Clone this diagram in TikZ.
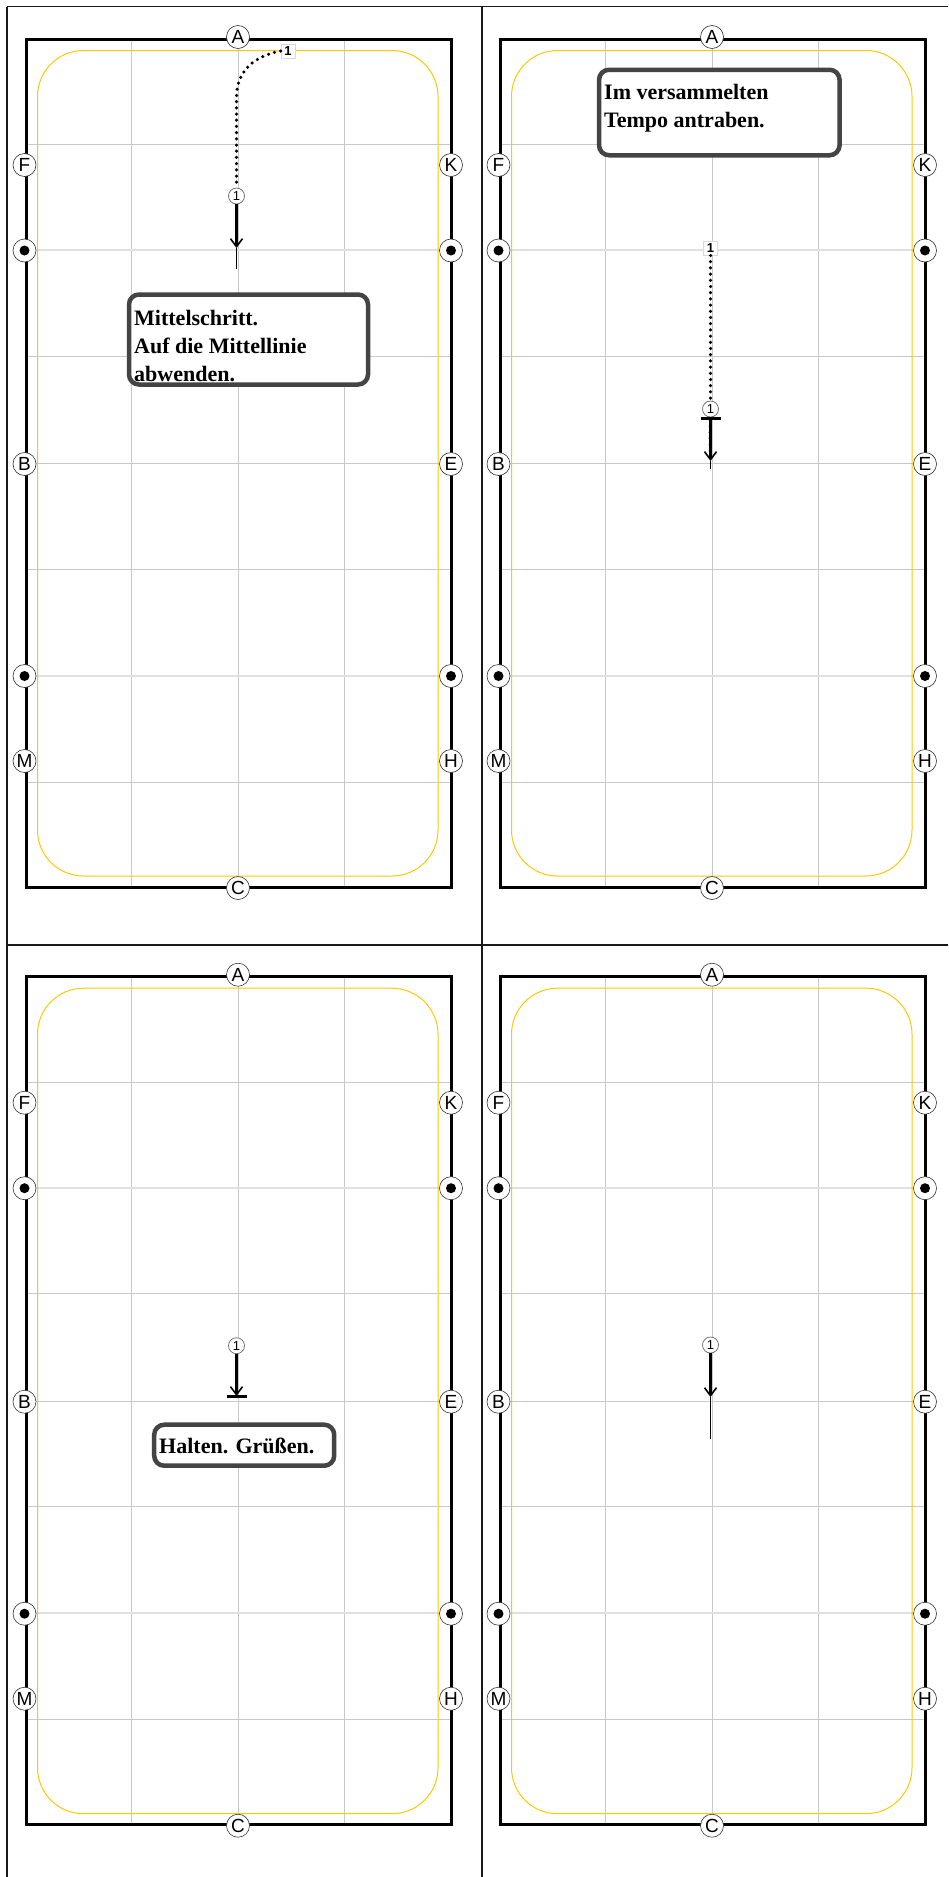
\documentclass[tikz,border=0pt]{standalone}
\usepackage{fontspec}
\setmainfont{Liberation Serif}
\newfontfamily\markfont{Liberation Sans}
\usetikzlibrary{arrows.meta}
\definecolor{gridc}{HTML}{C8C8C8}
\definecolor{gridl}{HTML}{E0E0E0}
\definecolor{yel}{HTML}{FFC800}
\definecolor{boxc}{HTML}{444444}
\tikzset{
  x=1pt,y=-1pt,
  framel/.style={line width=1.6pt,draw=black!90},
  arena/.style={line width=3pt,draw=black},
  gridline/.style={line width=1pt,draw=gridc},
  gridlight/.style={line width=2pt,draw=gridl},
  track/.style={line width=1pt,draw=yel,rounded corners=46pt},
  letterm/.style={circle,draw=black!80,line width=.6pt,fill=white,minimum size=23pt,inner sep=0pt,font=\markfont\fontsize{19}{19}\selectfont},
  dotm/.style={letterm},
  numc/.style={circle,draw=black!60,line width=.7pt,fill=white,minimum size=16pt,inner sep=0pt,font=\markfont\fontsize{13}{13}\selectfont},
  nums/.style={rectangle,draw=black!15,line width=1pt,fill=white,minimum size=14pt,inner sep=0pt,font=\markfont\bfseries\fontsize{13}{13}\selectfont},
  dotted path/.style={line width=3.5pt,line cap=round,dash pattern=on 0pt off 6.2pt,draw=black},
  thickarrow/.style={line width=3pt,draw=black,-{Straight Barb[length=8pt,width=12pt,line width=1.6pt]}},
  thinline/.style={line width=1pt,draw=black},
  barline/.style={line width=3pt,draw=black},
  callout/.style={rectangle,rounded corners=10pt,draw=boxc,line width=4.5pt,inner sep=0pt},
  callfill/.style={callout,fill=white,draw=none},
  calltext/.style={anchor=base west,inner sep=0pt,font=\fontsize{22}{22}\selectfont\bfseries,text=black},
}
\newcommand{\arenapanel}[3]{%
 \begin{scope}[shift={(#2,#3)}]
  \foreach \gx in {131.5,238.5,344.5} \draw[gridline] (\gx,39) -- (\gx,887);
  \foreach \gy in {144.5,356,463.5,569,782} \draw[gridline] (26,\gy) -- (451,\gy);
  \foreach \gy in {250,675.7} \draw[gridlight] (26,\gy) -- (451,\gy);
  \draw[track] (37.5,50.5) rectangle (438,876);
  \draw[arena] (26,39) rectangle (451,887);
  \node[letterm] (#1A) at (238,37) {A};
  \node[letterm] (#1C) at (238,888) {C};
  \node[letterm] (#1F) at (24.5,165) {F};
  \node[letterm] (#1K) at (451,165) {K};
  \node[letterm] (#1B) at (24.5,464) {B};
  \node[letterm] (#1E) at (451,464) {E};
  \node[letterm] (#1M) at (24.5,761) {M};
  \node[letterm] (#1H) at (451,761) {H};
  \foreach \nm/\px/\py in {P/24.5/250.5,Q/451/250.5,R/24.5/676,S/451/676}{
    \node[dotm] (#1\nm) at (\px,\py) {};
    \fill[black] (#1\nm) circle (5pt);
  }
 \end{scope}}
\begin{document}
\begin{tikzpicture}
\useasboundingbox (0,0) rectangle (948,1877);
\fill[white] (0,0) rectangle (948,1877);
\draw[framel] (7,6.5) -- (7,1877);
\draw[framel] (481.7,6.5) -- (481.7,1877);
\draw[framel] (7,6.5) -- (948,6.5);
\draw[framel] (7,945) -- (948,945);
\arenapanel{a}{0}{0}
\arenapanel{b}{474}{0}
\arenapanel{c}{0}{937.7}
\arenapanel{d}{474}{937.7}

% panel 1
\node[nums] (s1) at (288,51) {1};
\node[numc] (n1) at (236.5,196) {1};
\coordinate (e1) at (236.5,248);
\coordinate (t1) at (236.5,269);
\draw[dotted path] (s1.west) .. controls (255,56) and (236.5,70) .. (236.5,98) -- (n1.north);
\draw[thinline] (e1) -- (t1);
\draw[thickarrow] (n1.south) -- (e1);
\node[callfill,minimum width=239pt,minimum height=90pt] (box1) at (248.5,339.5) {};
\begin{scope}
 \clip (128,293) rectangle (370,381.5);
 \node[calltext] (m1) at (134,325) {Mittelschritt.};
 \node[calltext] (m2) at (134,353) {Auf die Mittellinie};
 \node[calltext] (m3) at (134,381) {abwenden.};
\end{scope}
\node[callout,minimum width=239pt,minimum height=90pt] at (box1) {};

% panel 2
\node[nums] (s2) at (710.5,248) {1};
\node[numc] (n2) at (710.5,409) {1};
\coordinate (e2) at (710.5,461);
\coordinate (t2) at (710.5,469);
\coordinate (bl2) at (700.7,418);
\coordinate (br2) at (720.7,418);
\draw[dotted path] (s2.south) -- (n2.north);
\draw[dotted path,line width=2pt] (709.5,420) -- (709.5,458);
\draw[thinline] (e2) -- (t2);
\draw[thickarrow] (n2.south) -- (e2);
\draw[barline] (bl2) -- (br2);
\node[callout,fill=white,minimum width=240.5pt,minimum height=85.5pt] (box2) at (719.3,112.5) {};
\node[calltext] (m4) at (604,99) {Im versammelten};
\node[calltext] (m5) at (604,127) {Tempo antraben.};

% panel 3
\node[numc] (n3) at (236.5,1345.7) {1};
\coordinate (e3) at (236.5,1396);
\coordinate (bl3) at (226.7,1396.5);
\coordinate (br3) at (246.7,1396.5);
\draw[thickarrow] (n3.south) -- (e3);
\draw[barline] (bl3) -- (br3);
\node[callout,fill=white,minimum width=180pt,minimum height=41pt] (box3) at (244.2,1445.2) {};
\node[calltext] (m6) at (159,1453) {Halten. Grüßen.};

% panel 4
\node[numc] (n4) at (710.5,1345) {1};
\coordinate (e4) at (710.5,1397);
\coordinate (t4) at (710.5,1439);
\draw[thinline] (e4) -- (t4);
\draw[thickarrow] (n4.south) -- (e4);
\end{tikzpicture}
\end{document}
